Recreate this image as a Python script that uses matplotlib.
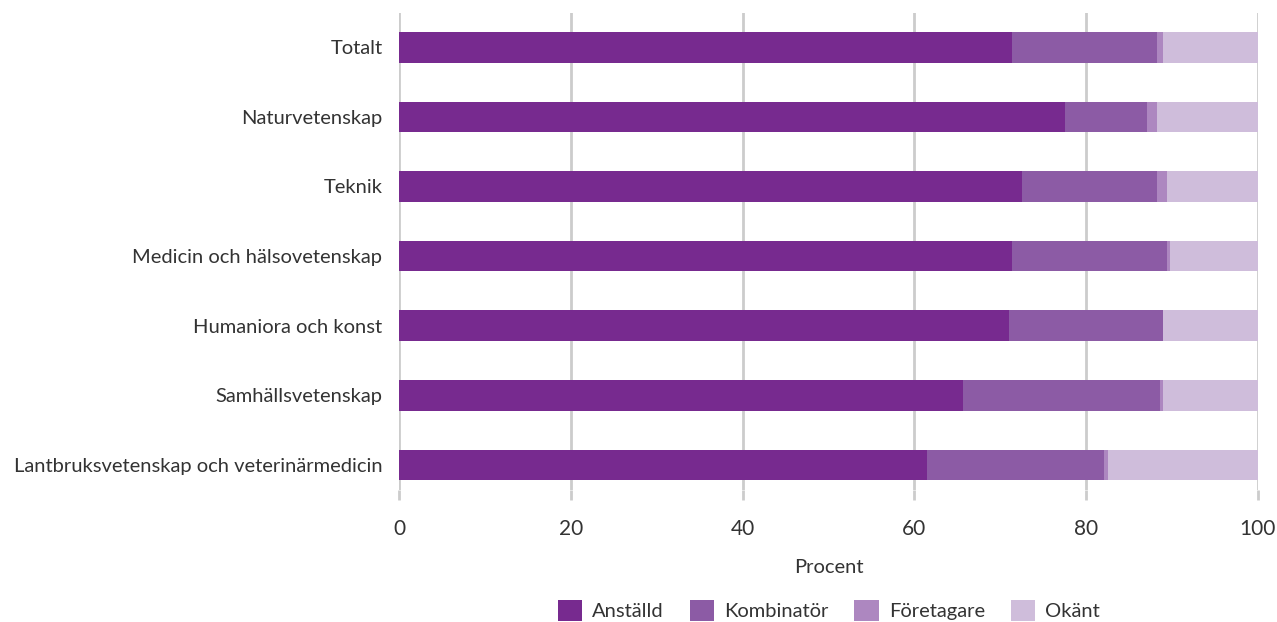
import numpy as np
import matplotlib.pyplot as plt

plt.rcParams['font.family'] = ['Lato', 'DejaVu Sans']

kategorier = ["Totalt", "Naturvetenskap", "Teknik", "Medicin och hälsovetenskap",
              "Humaniora och konst", "Samhällsvetenskap",
              "Lantbruksvetenskap och veterinärmedicin"]
anstalld = [71.4, 77.5, 72.5, 71.4, 71.0, 65.7, 61.5]
kombinator = [16.8, 9.6, 15.7, 18.0, 17.9, 22.9, 20.6]
foretagare = [0.7, 1.1, 1.2, 0.4, 0.0, 0.3, 0.4]
okant = [11.1, 11.8, 10.6, 10.2, 11.1, 11.1, 17.5]

serier = [("Anställd", anstalld, "#772a8f"),
          ("Kombinatör", kombinator, "#8c5ba5"),
          ("Företagare", foretagare, "#ad87c0"),
          ("Okänt", okant, "#cfbddb")]

textfarg = '#333333'

fig = plt.figure(figsize=(12.77, 6.22), dpi=100)
ax = fig.add_axes([0.3125, 0.212, 0.6725, 0.767])

y = np.arange(len(kategorier))[::-1]
vanster = np.zeros(len(kategorier))
for namn, varden, farg in serier:
    v = np.array(varden)
    ax.barh(y, v, left=vanster, height=0.44, color=farg, label=namn, zorder=3)
    vanster += v

ax.set_xlim(0, 100)
ax.set_ylim(-0.36, 6.49)
ax.set_xticks(range(0, 101, 20))
ax.set_yticks(y)
ax.set_yticklabels(kategorier, fontsize=14.5, color=textfarg)
ax.tick_params(axis='x', labelsize=15, colors=textfarg, length=7, width=2,
               color='#cccccc', pad=14)
ax.tick_params(axis='y', length=0, pad=12)
ax.grid(axis='x', color='#cccccc', linewidth=2, zorder=0)
for s in ax.spines.values():
    s.set_visible(False)
ax.set_xlabel("Procent", fontsize=14.5, color=textfarg, labelpad=14)

leg = fig.legend(loc='center', bbox_to_anchor=(0.649, 0.019), ncol=4,
                 frameon=False, fontsize=14.5, handlelength=1.2, handleheight=1.2,
                 columnspacing=1.3, handletextpad=0.5, labelcolor=textfarg)

plt.savefig("out.png", dpi=100)
